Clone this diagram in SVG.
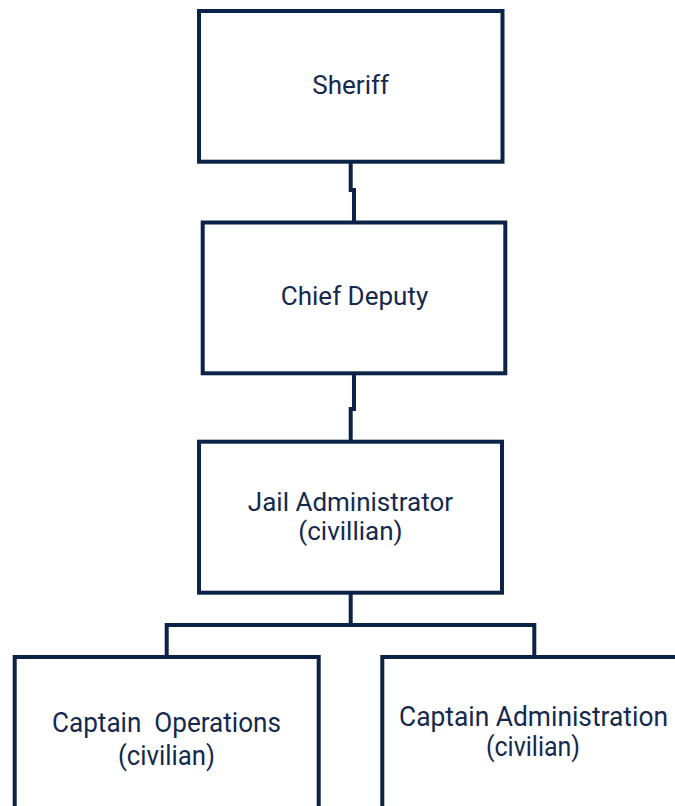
<svg xmlns="http://www.w3.org/2000/svg" width="675" height="806" viewBox="0 0 675 806">
<style>
.box{fill:#ffffff;stroke:#0b2347;stroke-width:4}
.conn{fill:none;stroke:#0b2347;stroke-width:4}
.t{font-family:Roboto,"Liberation Sans",sans-serif;font-size:26px;fill:#14294d;text-anchor:middle}
.c{font-family:Roboto,"Liberation Sans",sans-serif;font-size:28px;fill:#14294d;text-anchor:middle;white-space:pre}
</style>
<rect width="675" height="806" fill="#ffffff"/>
<g id="connectors">
<path class="conn" d="M350.7 161.7 V190 H354 V222.5"/>
<path class="conn" d="M354 373.3 V409 H350.7 V441.7"/>
<path class="conn" d="M350.7 592.7 V625"/>
<path class="conn" d="M166.7 657 V625 H534.3 V657"/>
</g>
<g id="sheriff">
<rect class="box" x="199" y="11" width="303.5" height="150.7"/>
<text class="t" x="350.7" y="94">Sheriff</text>
</g>
<g id="chief-deputy">
<rect class="box" x="202.7" y="222.5" width="302.6" height="150.8"/>
<text class="t" x="354.5" y="305">Chief Deputy</text>
</g>
<g id="jail-administrator">
<rect class="box" x="199" y="441.7" width="303" height="151"/>
<text class="t" x="350.5" y="510.7">Jail Administrator</text>
<text class="t" x="350.5" y="539.5">(civillian)</text>
</g>
<g id="captain-operations">
<rect class="box" x="14.7" y="657" width="304" height="170"/>
<text class="c" x="166.5" y="732" textLength="229" lengthAdjust="spacingAndGlyphs">Captain  Operations</text>
<text class="c" x="166.5" y="765" textLength="97" lengthAdjust="spacingAndGlyphs">(civilian)</text>
</g>
<g id="captain-administration">
<path class="box" d="M675 657 H382.3 V810"/>
<text class="c" x="533.5" y="726" textLength="269" lengthAdjust="spacingAndGlyphs">Captain Administration</text>
<text class="c" x="533" y="756" textLength="94" lengthAdjust="spacingAndGlyphs">(civilian)</text>
</g>
</svg>
